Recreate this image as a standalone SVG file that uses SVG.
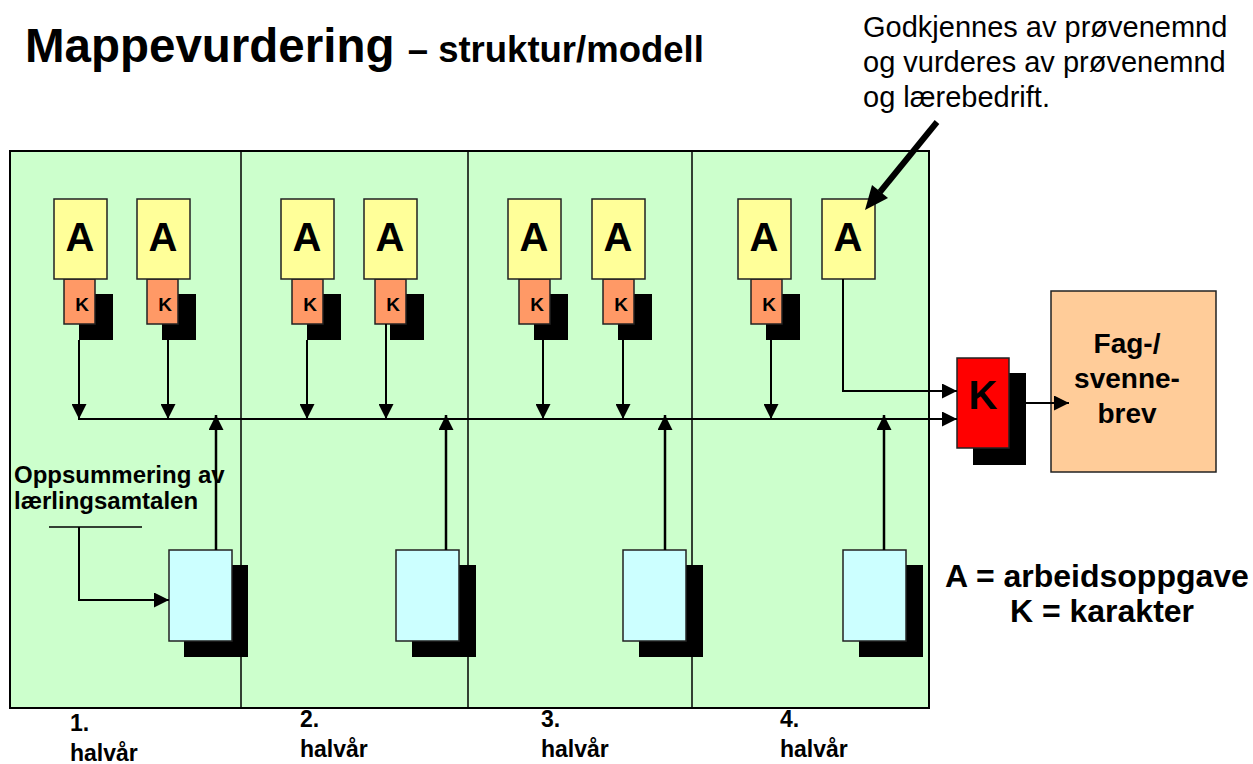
<svg xmlns="http://www.w3.org/2000/svg" width="1253" height="764" viewBox="0 0 1253 764">
<style>
.t{font-family:"Liberation Sans",Arial,sans-serif;fill:#000}
.b{font-weight:bold}
.box{stroke:#222;stroke-width:1.5}
.a{fill:#FFFF99}
.k{fill:#FF9966}
.q{fill:#CCFFFF}
.sh{fill:#000}
.ln{stroke:#000;stroke-width:2;fill:none}
.up{stroke:#000;stroke-width:2.5;fill:none}
</style>
<defs>
<marker id="ah" viewBox="0 0 10 10" refX="10" refY="5" markerWidth="15" markerHeight="15" markerUnits="userSpaceOnUse" orient="auto">
<path d="M0,0 L10,5 L0,10 Z" fill="#000"/>
</marker>
</defs>
<rect width="1253" height="764" fill="#fff"/>

<g id="title">
<text class="t b" x="25" y="62" font-size="47.5">Mappevurdering <tspan font-size="36.5">– struktur/modell</tspan></text>
</g>

<g id="note">
<text class="t" x="863" y="37" font-size="29">Godkjennes av prøvenemnd</text>
<text class="t" x="863" y="72" font-size="29">og vurderes av prøvenemnd</text>
<text class="t" x="863" y="107" font-size="29">og lærebedrift.</text>
</g>

<g id="panel">
<rect x="10" y="151" width="919" height="557" fill="#CCFFCC" stroke="#000" stroke-width="2"/>
<line x1="241" y1="151" x2="241" y2="708" stroke="#000" stroke-width="1.5"/>
<line x1="468" y1="151" x2="468" y2="708" stroke="#000" stroke-width="1.5"/>
<line x1="692" y1="151" x2="692" y2="708" stroke="#000" stroke-width="1.5"/>
</g>

<g id="nodes">
<g id="a1"><rect class="sh" x="79" y="294" width="34" height="46"/><rect class="box k" x="64" y="279" width="31" height="45"/><text class="t b" x="82" y="311" font-size="19" text-anchor="middle">K</text><rect class="box a" x="54" y="199" width="53" height="80"/><text class="t b" x="80" y="251" font-size="40" text-anchor="middle">A</text></g>
<g id="a2"><rect class="sh" x="162" y="294" width="34" height="46"/><rect class="box k" x="147" y="279" width="31" height="45"/><text class="t b" x="165" y="311" font-size="19" text-anchor="middle">K</text><rect class="box a" x="137" y="199" width="53" height="80"/><text class="t b" x="163" y="251" font-size="40" text-anchor="middle">A</text></g>
<g id="a3"><rect class="sh" x="307" y="294" width="34" height="46"/><rect class="box k" x="292" y="279" width="31" height="45"/><text class="t b" x="310" y="311" font-size="19" text-anchor="middle">K</text><rect class="box a" x="281" y="199" width="53" height="80"/><text class="t b" x="307" y="251" font-size="40" text-anchor="middle">A</text></g>
<g id="a4"><rect class="sh" x="390" y="294" width="34" height="46"/><rect class="box k" x="375" y="279" width="31" height="45"/><text class="t b" x="393" y="311" font-size="19" text-anchor="middle">K</text><rect class="box a" x="364" y="199" width="53" height="80"/><text class="t b" x="390" y="251" font-size="40" text-anchor="middle">A</text></g>
<g id="a5"><rect class="sh" x="534" y="294" width="34" height="46"/><rect class="box k" x="519" y="279" width="31" height="45"/><text class="t b" x="537" y="311" font-size="19" text-anchor="middle">K</text><rect class="box a" x="508" y="199" width="53" height="80"/><text class="t b" x="534" y="251" font-size="40" text-anchor="middle">A</text></g>
<g id="a6"><rect class="sh" x="618" y="294" width="34" height="46"/><rect class="box k" x="603" y="279" width="31" height="45"/><text class="t b" x="621" y="311" font-size="19" text-anchor="middle">K</text><rect class="box a" x="592" y="199" width="53" height="80"/><text class="t b" x="618" y="251" font-size="40" text-anchor="middle">A</text></g>
<g id="a7"><rect class="sh" x="766" y="294" width="34" height="46"/><rect class="box k" x="751" y="279" width="31" height="45"/><text class="t b" x="769" y="311" font-size="19" text-anchor="middle">K</text><rect class="box a" x="738" y="199" width="53" height="80"/><text class="t b" x="764" y="251" font-size="40" text-anchor="middle">A</text></g>
<g id="a8"><rect class="box a" x="822" y="199" width="53" height="80"/><text class="t b" x="848" y="251" font-size="40" text-anchor="middle">A</text></g>

<g id="s1"><rect class="sh" x="184" y="565" width="64" height="92"/><rect class="box q" x="169" y="550" width="63" height="91"/></g>
<g id="s2"><rect class="sh" x="412" y="565" width="64" height="92"/><rect class="box q" x="396" y="550" width="63" height="91"/></g>
<g id="s3"><rect class="sh" x="639" y="565" width="64" height="92"/><rect class="box q" x="623" y="550" width="63" height="91"/></g>
<g id="s4"><rect class="sh" x="859" y="565" width="64" height="92"/><rect class="box q" x="843" y="550" width="63" height="91"/></g>

<g id="final"><rect class="sh" x="973" y="373" width="53" height="92"/><rect class="box" fill="#FF0000" x="957" y="358" width="52" height="90"/><text class="t b" x="983" y="409" font-size="40" text-anchor="middle">K</text></g>
<g id="brev"><rect class="box" fill="#FFCC99" x="1051" y="291" width="165" height="181"/>
<text class="t b" x="1127" y="353" font-size="28" text-anchor="middle">Fag-/</text>
<text class="t b" x="1127" y="388" font-size="28" text-anchor="middle">svenne-</text>
<text class="t b" x="1127" y="423" font-size="28" text-anchor="middle">brev</text></g>
</g>

<g id="connectors">
<line class="ln" x1="79" y1="340" x2="79" y2="419" marker-end="url(#ah)"/>
<line class="ln" x1="168" y1="340" x2="168" y2="419" marker-end="url(#ah)"/>
<line class="ln" x1="307" y1="340" x2="307" y2="419" marker-end="url(#ah)"/>
<line class="ln" x1="386" y1="324" x2="386" y2="419" marker-end="url(#ah)"/>
<line class="ln" x1="543" y1="340" x2="543" y2="419" marker-end="url(#ah)"/>
<line class="ln" x1="623" y1="340" x2="623" y2="419" marker-end="url(#ah)"/>
<line class="ln" x1="771" y1="340" x2="771" y2="419" marker-end="url(#ah)"/>
<line class="ln" x1="78" y1="419" x2="957" y2="419" marker-end="url(#ah)"/>
<polyline class="ln" points="843,279 843,391 957,391" marker-end="url(#ah)"/>
<line class="up" x1="216" y1="550" x2="216" y2="415" marker-end="url(#ah)"/>
<line class="up" x1="446" y1="550" x2="446" y2="415" marker-end="url(#ah)"/>
<line class="up" x1="665" y1="550" x2="665" y2="415" marker-end="url(#ah)"/>
<line class="up" x1="884" y1="550" x2="884" y2="415" marker-end="url(#ah)"/>
<line class="ln" x1="1026" y1="403" x2="1069" y2="403" marker-end="url(#ah)"/>
<line x1="49" y1="527" x2="142" y2="527" stroke="#000" stroke-width="1.5"/>
<polyline class="ln" points="79,527 79,600 169,600" marker-end="url(#ah)"/>
<line x1="937" y1="122" x2="880" y2="192" stroke="#000" stroke-width="6"/>
<polygon points="865,210 888,198 872,185" fill="#000"/>
</g>

<g id="labels">
<text class="t b" x="14" y="483" font-size="24">Oppsummering av</text>
<text class="t b" x="14" y="509" font-size="24">lærlingsamtalen</text>
<text class="t b" x="1097" y="587" font-size="32" text-anchor="middle">A = arbeidsoppgave</text>
<text class="t b" x="1102" y="622" font-size="32" text-anchor="middle">K = karakter</text>
<text class="t b" x="70" y="731" font-size="23">1.</text>
<text class="t b" x="70" y="761" font-size="23">halvår</text>
<text class="t b" x="300" y="727" font-size="23">2.</text>
<text class="t b" x="300" y="757" font-size="23">halvår</text>
<text class="t b" x="541" y="727" font-size="23">3.</text>
<text class="t b" x="541" y="757" font-size="23">halvår</text>
<text class="t b" x="780" y="727" font-size="23">4.</text>
<text class="t b" x="780" y="757" font-size="23">halvår</text>
</g>
</svg>
